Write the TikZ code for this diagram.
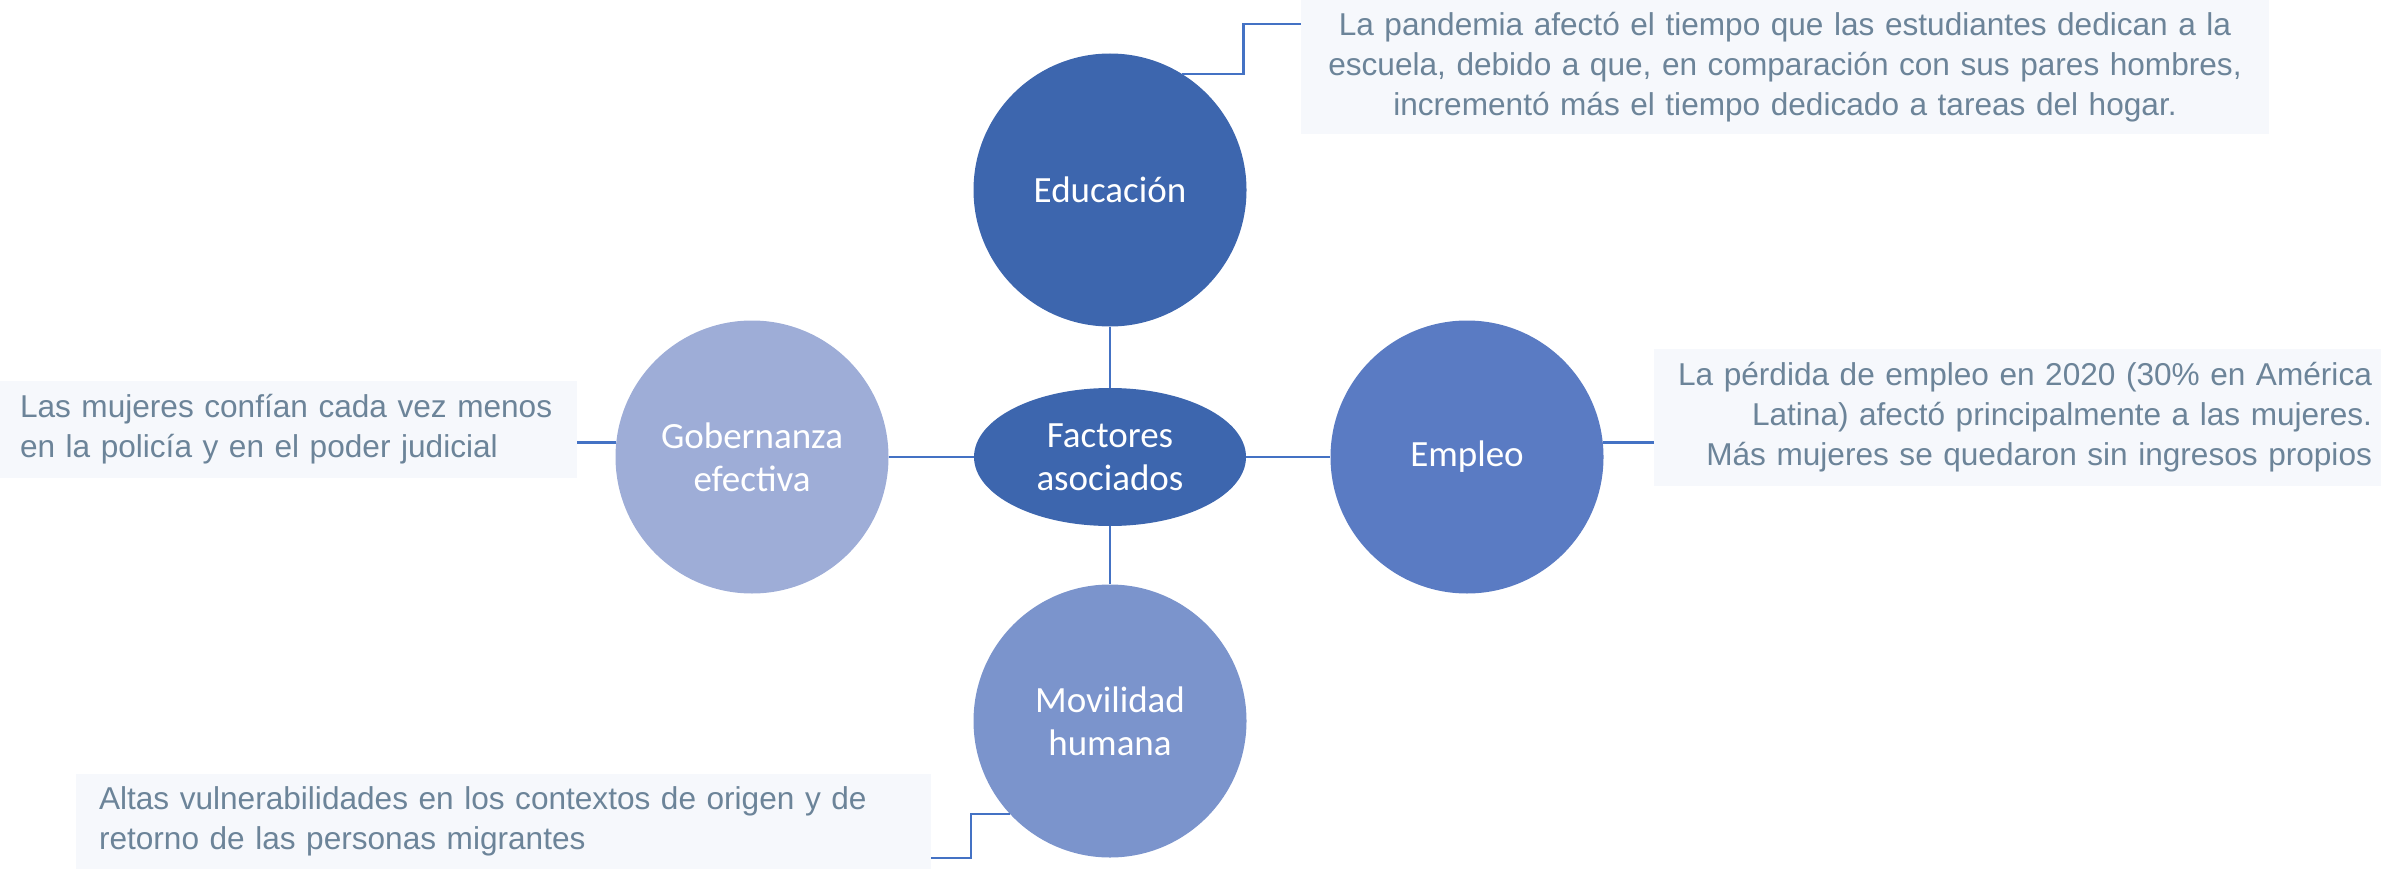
\documentclass[tikz,border=0pt]{standalone}
\usepackage{fontspec}
\setmainfont{Liberation Sans}
\newfontfamily\circfont{Carlito}
\usetikzlibrary{shapes.geometric}
\definecolor{eduC}{HTML}{3D66AE}
\definecolor{empC}{HTML}{5A7BC3}
\definecolor{movC}{HTML}{7B94CC}
\definecolor{gobC}{HTML}{9EADD7}
\definecolor{lineC}{HTML}{4472C4}
\definecolor{txtC}{HTML}{6C8499}
\definecolor{boxC}{HTML}{F6F8FC}
\tikzset{
  circ/.style={circle, minimum size=273pt, inner sep=0pt, text=white,
    font=\circfont\fontsize{37}{43}\selectfont, align=center},
  callout/.style={rectangle, fill=boxC, text=txtC, inner ysep=0pt,
    font=\fontsize{31.6}{40}\selectfont},
  conn/.style={draw=lineC, line width=2.5pt}
}
\begin{document}
\begin{tikzpicture}[x=1pt,y=-1pt]
\useasboundingbox (0,0) rectangle (2381,869);
% main nodes
\node[circ, fill=eduC] (edu) at (1110,190) {Educación};
\node[ellipse, fill=eduC, minimum width=272pt, minimum height=138pt, inner sep=0pt,
  text=white, font=\circfont\fontsize{37}{43}\selectfont, align=center] (fac) at (1110,457) {Factores\\asociados};
\node[circ, fill=empC] (emp) at (1467,457) {Empleo};
\node[circ, fill=gobC] (gob) at (752,457) {Gobernanza\\efectiva};
\node[circ, fill=movC] (mov) at (1110,721) {Movilidad\\humana};
% callouts
\node[callout, minimum width=968pt, minimum height=134pt, inner xsep=20pt,
  text width=928pt, align=center] (topbox) at (1785,67)
  {La pandemia afectó el tiempo que las estudiantes dedican a la\\escuela, debido a que, en comparación con sus pares hombres,\\incrementó más el tiempo dedicado a tareas del hogar.};
\node[callout, minimum width=727pt, minimum height=137pt, inner xsep=9pt,
  text width=709pt, align=right] (empbox) at (2017.5,417.5)
  {La pérdida de empleo en 2020 (30\% en América\\Latina) afectó principalmente a las mujeres.\\Más mujeres se quedaron sin ingresos propios};
\node[callout, minimum width=577pt, minimum height=97pt, inner xsep=20pt,
  text width=537pt, align=left] (gobbox) at (288.5,429.5)
  {Las mujeres confían cada vez menos\\en la policía y en el poder judicial};
\node[callout, minimum width=855pt, minimum height=95pt, inner xsep=23pt,
  text width=809pt, align=left] (movbox) at (503.5,821.5)
  {Altas vulnerabilidades en los contextos de origen y de\\retorno de las personas migrantes};
% connectors between circles
\draw[conn] (edu.south) -- (fac.north);
\draw[conn] (fac.west) -- (gob.east);
\draw[conn] (fac.east) -- (emp.west);
\draw[conn] (fac.south) -- (mov.north);
% connectors to callouts
\coordinate (topIn) at (1301,24);
\coordinate (movIn) at (931,858);
\draw[conn] (edu.58.6) -- ++(61,0) |- (topIn);
\draw[conn] (emp.6) -- (emp.6 -| empbox.west);
\draw[conn] (gob.174) -- (gob.174 -| gobbox.east);
\draw[conn] (mov.223.2) -- ++(-39,0) |- (movIn);
\end{tikzpicture}
\end{document}
